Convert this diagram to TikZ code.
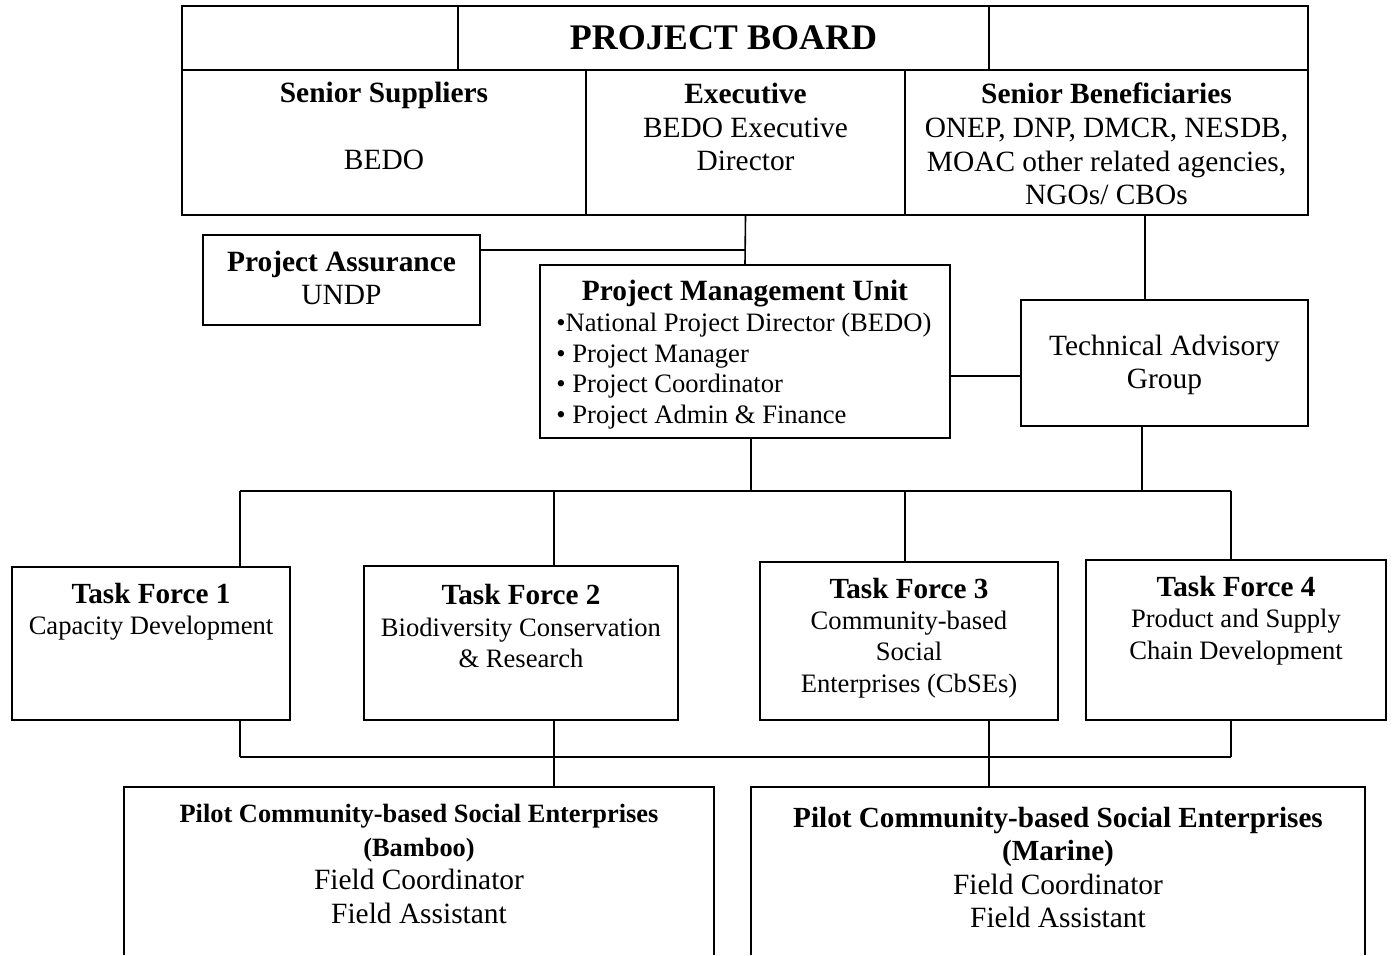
\documentclass[tikz,border=0pt]{standalone}
\usepackage{fontspec}
\setmainfont{Liberation Serif}
\usetikzlibrary{fit,calc}

\newcommand\tfhead[1]{{\fontsize{14.6}{16.5}\selectfont\bfseries #1}}
\newcommand\pilothead[2]{{\fontsize{#1}{#1}\selectfont\bfseries #2}}

\begin{document}
\begin{tikzpicture}[
  x=0.5pt, y=-0.5pt,
  cell/.style={draw, line width=1pt, inner sep=0pt},
  frame/.style={inner sep=0pt},
  txt/.style={inner sep=0pt, align=center, font=\fontsize{14.7}{16.8}\selectfont},
  small/.style={inner sep=0pt, align=center, font=\fontsize{13.3}{15.6}\selectfont},
  link/.style={line width=0.8pt},
  bus/.style={line width=1.3pt},
]
\useasboundingbox (0,0) rectangle (1392,955);

% ================= project board =================
\node[cell, fit={(182,6)(458,70)}]    (pbL) {};
\node[cell, fit={(458,6)(989,70)}]    (pbM) {};
\node[cell, fit={(989,6)(1308,70)}]   (pbR) {};
\node[cell, fit={(182,70)(586,215)}]  (ss)  {};
\node[cell, fit={(586,70)(905,215)}]  (ex)  {};
\node[cell, fit={(905,70)(1308,215)}] (sb)  {};

\node[inner sep=0pt, font=\fontsize{18}{20}\selectfont\bfseries] (pbT) at (pbM) {PROJECT BOARD};
\node[txt] (ssH) at (384,95)  {\textbf{Senior Suppliers}};
\node[txt] (ssB) at (384,160) {BEDO};
\node[txt] (exT) at (745.5,127) {\textbf{Executive}\\BEDO Executive\\Director};
\node[txt] (sbT) at (1106.5,144)
  {\textbf{Senior Beneficiaries}\\ONEP, DNP, DMCR, NESDB,\\MOAC other related agencies,\\NGOs/ CBOs};

% ================= management level =================
\node[cell, fit={(203,235)(480,325)}]   (pa)  {};
\node[cell, fit={(540,265)(950,438)}]   (pmu) {};
\node[cell, fit={(1021,300)(1308,426)}] (tag) {};

\node[txt] (paT)  at (341.5,278) {\textbf{Project Assurance}\\UNDP};
\node[txt] (pmuH) at (745,294)   {\textbf{Project Management Unit}};
\node[small, align=left, anchor=west, font=\fontsize{13.3}{15.3}\selectfont] (pmuL) at (556,371)
  {\textbullet National Project Director (BEDO)\\
   \textbullet{} Project Manager\\
   \textbullet{} Project Coordinator\\
   \textbullet{} Project Admin \& Finance};
\node[txt] (tagT) at (1164.5,365) {Technical Advisory\\Group};

% board -> PMU, assurance, advisory group
\coordinate (paj) at (743,250);
\draw[link] (ex.south) -- (pmu.north);
\draw[link] (paj -| pa.east) -- (paj -| ex.south);
\coordinate (sbtap) at (1145,0);
\draw[link] (sbtap |- sb.south) -- (sbtap |- tag.north);
\coordinate (pmtap) at (0,376);
\draw[link] (pmtap -| pmu.east) -- (pmtap -| tag.west);

% ================= task forces =================
\node[cell, fit={(12,567)(290,720)}]    (tf1) {};
\node[cell, fit={(364,566)(678,720)}]   (tf2) {};
\node[cell, fit={(760,562)(1058,720)}]  (tf3) {};
\node[cell, fit={(1086,560)(1386,720)}] (tf4) {};

\node[small] (tf1T) at (151,611.5) {\tfhead{Task Force 1}\\Capacity Development};
\node[small] (tf2T) at (521,626) {\tfhead{Task Force 2}\\Biodiversity Conservation\\\& Research};
\node[small] (tf3T) at (909,638) {\tfhead{Task Force 3}\\Community-based\\Social\\Enterprises (CbSEs)};
\node[small] (tf4T) at (1236,620.5) {\tfhead{Task Force 4}\\Product and Supply\\Chain Development};

% upper bus
\coordinate (busL) at (240,491);
\coordinate (busR) at (1231,491);
\draw[bus] (busL) -- (busR);
\draw[link] (751,0 |- pmu.south) -- (751,0 |- busL);
\draw[link] (1142,0 |- tag.south) -- (1142,0 |- busL);
\draw[link] (busL) -- (busL |- tf1.north);
\foreach \x/\t in {554/tf2, 905/tf3}
  \draw[link] (\x,0 |- busL) -- (\x,0 |- \t.north);
\draw[link] (busR) -- (busR |- tf4.north);

% ================= pilot enterprises =================
\node[frame, fit={(124,787)(714,955)}]  (cbB) {};
\node[frame, fit={(751,787)(1365,955)}] (cbM) {};
\draw[line width=1pt] (cbB.south west) |- (cbB.north east) -- (cbB.south east);
\draw[line width=1pt] (cbM.south west) |- (cbM.north east) -- (cbM.south east);

\node[txt] (cbBT) at (419,864)
  {\pilothead{13.2}{Pilot Community-based Social Enterprises}\\\pilothead{13.2}{(Bamboo)}\\Field Coordinator\\Field Assistant};
\node[txt] (cbMT) at (1058,867.5)
  {\pilothead{14.6}{Pilot Community-based Social Enterprises}\\\pilothead{14.6}{(Marine)}\\Field Coordinator\\Field Assistant};

% lower bus
\coordinate (lowL) at (240,757);
\coordinate (lowR) at (1231,757);
\draw[bus] (lowL) -- (lowR);
\draw[link] (lowL |- tf1.south) -- (lowL);
\draw[link] (lowR |- tf4.south) -- (lowR);
\draw[link] (554,0 |- tf2.south) -- (554,0 |- cbB.north);
\draw[link] (989,0 |- tf3.south) -- (989,0 |- cbM.north);

\end{tikzpicture}
\end{document}
